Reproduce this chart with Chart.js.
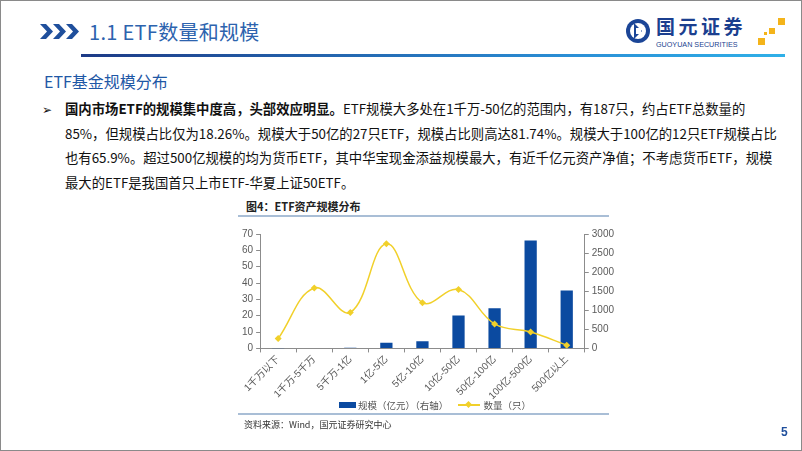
<!DOCTYPE html>
<html>
<head>
<meta charset="utf-8">
<script src="https://cdn.jsdelivr.net/npm/chart.js@4.4.1/dist/chart.umd.min.js"></script>
<style>
    html, body { margin: 0; padding: 0; background: #fff; }
    #slide {
        position: relative; width: 802px; height: 451px; box-sizing: border-box;
        border: 1px solid #8a8a8a; overflow: hidden;
        font-family: "Noto Sans CJK SC", "Liberation Sans", sans-serif;
    }
    .abs { position: absolute; white-space: nowrap; }
    #title { left: 88px; top: 17px; font-size: 20px; color: #2d63ae; line-height: 28px; letter-spacing: 0.3px; }
    #hline { left: 80px; top: 53px; width: 704px; height: 3px; background: linear-gradient(to right, #1d3a86, #2a8fd6 70%, #2fb0e8); }
    #subtitle { left: 43px; top: 69px; font-size: 16px; color: #1f58a6; line-height: 22px; }
    .para { left: 64px; font-size: 13.35px; color: #111; line-height: 20px; }
    #bullet { left: 41px; top: 98px; font-size: 12px; color: #111; line-height: 20px; }
    #figTitle { left: 245px; top: 197px; font-size: 11px; font-weight: bold; color: #222; line-height: 16px; }
    .rule { left: 237px; width: 371px; height: 2px; background: #a9bed6; }
    #legend { left: 338px; top: 396px; font-size: 9.5px; color: #555; line-height: 14px; }
    #legend span { display: inline-block; vertical-align: middle; }
    #source { left: 243px; top: 417px; font-size: 9px; color: #333; line-height: 14px; }
    #pageNo { left: 780px; top: 424px; font-size: 12px; font-weight: bold; color: #1f4f9c; font-family: "Liberation Sans", sans-serif; }
    #chartBox { position: absolute; left: 226px; top: 224px; }
</style>
</head>
<body>
<div id="slide">
    <!-- header -->
    <svg class="abs" style="left:39px;top:23px" width="44" height="15">
        <polygon points="0,0 6,0 13,7.5 6,15 0,15 7,7.5" fill="#1f4f9c"/>
        <polygon points="13,0 19,0 26,7.5 19,15 13,15 20,7.5" fill="#1f4f9c"/>
        <polygon points="26,0 32,0 39,7.5 32,15 26,15 33,7.5" fill="#1f4f9c"/>
    </svg>
    <div id="title" class="abs">1.1 ETF数量和规模</div>
    <div id="hline" class="abs"></div>

    <!-- logo -->
    <svg class="abs" style="left:624px;top:17px" width="26" height="26">
        <circle cx="13" cy="13" r="12" fill="#1b4597"/>
        <circle cx="13" cy="13" r="8" fill="#fff"/>
        <path d="M9,5 L17,13 L9,21 Z" fill="#1b4597"/>
        <rect x="11" y="10" width="5" height="6" fill="#fff"/>
    </svg>
    <div class="abs" style="left:655px;top:15px;font-size:19px;font-weight:bold;color:#1b3f8f;line-height:20px;letter-spacing:3.5px">国元证券</div>
    <div class="abs" style="left:655px;top:40px;font-size:7.2px;color:#1b3f8f;line-height:7px;font-family:'Liberation Sans',sans-serif">GUOYUAN SECURITIES</div>
    <svg class="abs" style="left:754px;top:15px" width="32" height="32">
        <rect x="23" y="2" width="7" height="7" fill="#f4b41a"/>
        <rect x="14" y="12" width="6" height="6" fill="#f4b41a"/>
        <rect x="9" y="16" width="3" height="3" fill="#f4b41a"/>
        <rect x="3" y="22" width="7" height="7" fill="#f4b41a"/>
    </svg>

    <!-- text -->
    <div id="subtitle" class="abs">ETF基金规模分布</div>
    <div id="bullet" class="abs">➢</div>
    <div class="abs para" style="top:98px"><b>国内市场ETF的规模集中度高，头部效应明显。</b>ETF规模大多处在1千万-50亿的范围内，有187只，约占ETF总数量的</div>
    <div class="abs para" style="top:122.5px">85%，但规模占比仅为18.26%。规模大于50亿的27只ETF，规模占比则高达81.74%。规模大于100亿的12只ETF规模占比</div>
    <div class="abs para" style="top:147px">也有65.9%。超过500亿规模的均为货币ETF，其中华宝现金添益规模最大，有近千亿元资产净值；不考虑货币ETF，规模</div>
    <div class="abs para" style="top:171.5px">最大的ETF是我国首只上市ETF-华夏上证50ETF。</div>

    <!-- figure -->
    <div id="figTitle" class="abs">图4：ETF资产规模分布</div>
    <div class="abs rule" style="top:214px"></div>
    <div id="chartBox"><canvas id="etfChart" width="390" height="178"></canvas></div>
    <div id="legend" class="abs">
        <span style="width:17px;height:6px;background:#0b4aa0"></span><span style="margin-left:2px">规模（亿元）（右轴）</span>
        <span style="margin-left:8px;width:22px;height:8px;position:relative">
            <span style="position:absolute;left:0;top:3px;width:22px;height:1.5px;background:#f1d02a"></span>
            <span style="position:absolute;left:8px;top:1px;width:5px;height:5px;background:#f1d02a;transform:rotate(45deg)"></span>
        </span><span style="margin-left:3px">数量（只）</span>
    </div>
    <div class="abs rule" style="top:412px"></div>
    <div id="source" class="abs">资料来源：Wind，国元证券研究中心</div>
    <div id="pageNo" class="abs">5</div>
</div>

<script>
    // ------------------------- data -------------------------
    var categories = ['1千万以下', '1千万-5千万', '5千万-1亿', '1亿-5亿', '5亿-10亿', '10亿-50亿', '50亿-100亿', '100亿-500亿', '500亿以上'];
    var scaleValues = [2, 10, 15, 150, 185, 860, 1050, 2830, 1520];   // 规模（亿元），右轴
    var countValues = [6, 37, 22, 64, 28, 36, 15, 10, 2];            // 数量（只），左轴
    var leftTicks = [0, 10, 20, 30, 40, 50, 60, 70];
    var rightTicks = [0, 500, 1000, 1500, 2000, 2500, 3000];

    var axisColor = '#8c8c8c';
    var tickFont = { family: "'Liberation Sans', 'Noto Sans CJK SC', sans-serif", size: 10 };

    var ctx = document.getElementById('etfChart').getContext('2d');
    var chart = new Chart(ctx, {
        type: 'bar',
        data: {
            labels: categories,
            datasets: [{
                type: 'line',
                label: '数量（只）',
                data: countValues,
                yAxisID: 'y',
                borderColor: '#f1d02a',
                backgroundColor: '#f1d02a',
                borderWidth: 1.5,
                tension: 0.4,
                pointStyle: 'rectRot',
                pointRadius: 3.5,
                pointBorderWidth: 0,
                order: 0
            }, {
                type: 'bar',
                label: '规模（亿元）（右轴）',
                data: scaleValues,
                yAxisID: 'y1',
                backgroundColor: '#0b4aa0',
                barPercentage: 0.34,
                categoryPercentage: 1,
                order: 1
            }]
        },
        options: {
            responsive: false,
            devicePixelRatio: 1,
            animation: false,
            layout: { padding: { top: 4, left: 12, right: 0, bottom: 0 } },
            plugins: { legend: { display: false }, tooltip: { enabled: false } },
            scales: {
                x: {
                    grid: { drawOnChartArea: false, drawTicks: true, tickLength: 4, color: axisColor, offset: true },
                    border: { color: axisColor },
                    ticks: { font: tickFont, color: '#5a5a5a', minRotation: 45, maxRotation: 45, autoSkip: false, padding: 1 }
                },
                y: {
                    position: 'left',
                    min: 0, max: 70,
                    afterBuildTicks: function (axis) { axis.ticks = leftTicks.map(function (v) { return { value: v }; }); },
                    grid: { drawOnChartArea: false, drawTicks: true, tickLength: 4, color: axisColor },
                    border: { color: axisColor },
                    ticks: { font: tickFont, color: '#5a5a5a', padding: 3 }
                },
                y1: {
                    position: 'right',
                    min: 0, max: 3000,
                    afterBuildTicks: function (axis) { axis.ticks = rightTicks.map(function (v) { return { value: v }; }); },
                    grid: { drawOnChartArea: false, drawTicks: true, tickLength: 4, color: axisColor },
                    border: { color: axisColor },
                    ticks: { font: tickFont, color: '#5a5a5a', padding: 3, callback: function (v) { return String(v); } }
                }
            }
        }
    });
</script>
</body>
</html>
